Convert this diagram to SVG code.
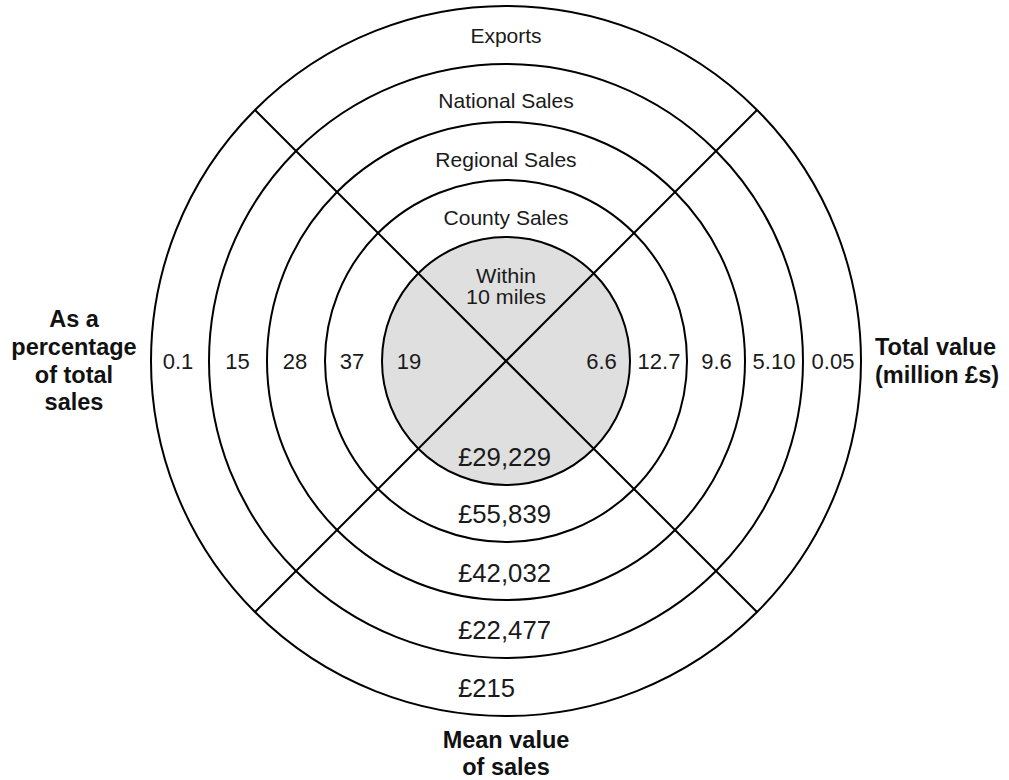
<svg xmlns="http://www.w3.org/2000/svg" width="1009" height="780" viewBox="0 0 1009 780">
<style>
.ring{fill:none;stroke:#000;stroke-width:2}
.core{fill:#dfdfdf;stroke:#000;stroke-width:2}
.ln{stroke:#000;stroke-width:2;fill:none}
.t{font-family:"Liberation Sans",Arial,sans-serif;font-size:21px;fill:#1a1a1a;text-anchor:middle}
.w{font-family:"Liberation Sans",Arial,sans-serif;font-size:20px;fill:#1a1a1a;text-anchor:middle}
.n{font-family:"Liberation Sans",Arial,sans-serif;font-size:22px;fill:#1a1a1a;text-anchor:middle}
.m{font-family:"Liberation Sans",Arial,sans-serif;font-size:25px;fill:#1a1a1a}
.b{font-family:"Liberation Sans",Arial,sans-serif;font-size:23.5px;font-weight:bold;fill:#111}
</style>
<rect width="1009" height="780" fill="#fff"/>
<g id="core">
<circle class="core" cx="506" cy="361" r="124"/>
</g>
<g id="connectors">
<line class="ln" x1="255" y1="110" x2="757" y2="612"/>
<line class="ln" x1="757" y1="110" x2="255" y2="612"/>
</g>
<g id="rings">
<circle class="ring" cx="506" cy="361" r="181"/>
<circle class="ring" cx="506" cy="361" r="239"/>
<circle class="ring" cx="506" cy="361" r="297"/>
<circle class="ring" cx="506" cy="361" r="355"/>
</g>
<g id="zone-labels">
<text class="t" x="506" y="43">Exports</text>
<text class="t" x="506" y="108">National Sales</text>
<text class="t" x="506" y="167">Regional Sales</text>
<text class="t" x="506" y="225">County Sales</text>
<text class="w" x="506" y="283" textLength="60" lengthAdjust="spacingAndGlyphs">Within</text>
<text class="w" x="506" y="304" textLength="80" lengthAdjust="spacingAndGlyphs">10 miles</text>
</g>
<g id="percentages">
<text class="n" x="178" y="369">0.1</text>
<text class="n" x="237.5" y="369">15</text>
<text class="n" x="295" y="369">28</text>
<text class="n" x="352" y="369">37</text>
<text class="n" x="409" y="369">19</text>
</g>
<g id="totals">
<text class="n" x="601.5" y="369">6.6</text>
<text class="n" x="659" y="369">12.7</text>
<text class="n" x="716.5" y="369">9.6</text>
<text class="n" x="774" y="369">5.10</text>
<text class="n" x="833" y="369">0.05</text>
</g>
<g id="means">
<text class="m" x="458" y="466" textLength="93" lengthAdjust="spacingAndGlyphs">£29,229</text>
<text class="m" x="458" y="523" textLength="93" lengthAdjust="spacingAndGlyphs">£55,839</text>
<text class="m" x="458" y="581.5" textLength="93" lengthAdjust="spacingAndGlyphs">£42,032</text>
<text class="m" x="458" y="639" textLength="93" lengthAdjust="spacingAndGlyphs">£22,477</text>
<text class="m" x="458" y="696.5" textLength="57" lengthAdjust="spacingAndGlyphs">£215</text>
</g>
<g id="axis-left">
<text class="b" x="74" y="327" text-anchor="middle">As a</text>
<text class="b" x="74" y="355" text-anchor="middle">percentage</text>
<text class="b" x="74" y="383" text-anchor="middle">of total</text>
<text class="b" x="74" y="410" text-anchor="middle">sales</text>
</g>
<g id="axis-right">
<text class="b" x="875" y="355">Total value</text>
<text class="b" x="875" y="383">(million £s)</text>
</g>
<g id="axis-bottom">
<text class="b" x="506" y="748" text-anchor="middle">Mean value</text>
<text class="b" x="506" y="775" text-anchor="middle">of sales</text>
</g>
</svg>
